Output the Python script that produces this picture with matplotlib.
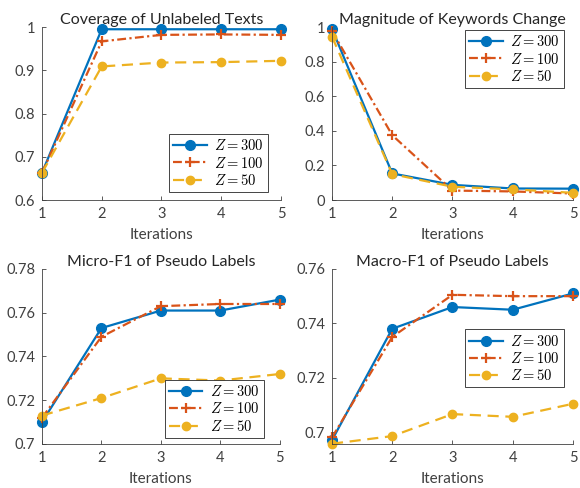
import numpy as np
import matplotlib.pyplot as plt
from matplotlib.ticker import FormatStrFormatter

plt.rcParams['font.family'] = ['Lato', 'DejaVu Sans']
plt.rcParams['mathtext.fontset'] = 'cm'

iterations = [1, 2, 3, 4, 5]
labels = ['$Z = 300$', '$Z = 100$', '$Z = 50$']

# coverage of unlabeled texts
coverage_300 = [0.663, 0.995, 0.995, 0.995, 0.995]
coverage_100 = [0.663, 0.967, 0.982, 0.983, 0.982]
coverage_50 = [0.663, 0.909, 0.918, 0.919, 0.922]

# magnitude of keywords change
change_300 = [0.99, 0.154, 0.088, 0.067, 0.066]
change_100 = [0.977, 0.375, 0.055, 0.05, 0.038]
change_50 = [0.945, 0.15, 0.077, 0.062, 0.042]

# micro-F1
micro_300 = [0.710, 0.753, 0.761, 0.761, 0.766]
micro_100 = [0.712, 0.749, 0.763, 0.764, 0.764]
micro_50 = [0.713, 0.721, 0.730, 0.729, 0.732]

# macro-F1
macro_300 = [0.697, 0.738, 0.746, 0.745, 0.751]
macro_100 = [0.698, 0.735, 0.7505, 0.750, 0.750]
macro_50 = [0.6957, 0.6985, 0.7066, 0.7056, 0.7104]

blue = '#0072BD'
red = '#D95319'
yellow = '#EDB120'

fig = plt.figure(figsize=(5.8, 4.88), dpi=100)

panels = [
    ([0.0724, 0.590, 0.412, 0.3545], 'Coverage of Unlabeled Texts',
     (coverage_300, coverage_100, coverage_50), (0.6, 1.0), [0.6, 0.7, 0.8, 0.9, 1.0],
     'lower right', (0.946, 0.046)),
    ([0.5724, 0.590, 0.4155, 0.3545], 'Magnitude of Keywords Change',
     (change_300, change_100, change_50), (0.0, 1.0), [0, 0.2, 0.4, 0.6, 0.8, 1.0],
     'upper right', (0.963, 0.983)),
    ([0.0724, 0.0902, 0.410, 0.3586], 'Micro-F1 of Pseudo Labels',
     (micro_300, micro_100, micro_50), (0.7, 0.78), [0.7, 0.72, 0.74, 0.76, 0.78],
     'lower right', (0.933, 0.034)),
    ([0.5724, 0.0902, 0.4155, 0.3586], 'Macro-F1 of Pseudo Labels',
     (macro_300, macro_100, macro_50), (0.6956, 0.76), [0.7, 0.72, 0.74, 0.76],
     'upper right', (0.963, 0.655)),
]

for rect, title, (s300, s100, s50), ylim, yticks, loc, anchor in panels:
    ax = fig.add_axes(rect)
    ax.plot(iterations, s300, '-o', color=blue, lw=1.6, ms=7, label=labels[0], clip_on=False)
    ax.plot(iterations, s100, '-.+', color=red, lw=1.6, ms=7, mew=1.6, label=labels[1], clip_on=False,
            dashes=(4, 1.5, 1, 1.5))
    ax.plot(iterations, s50, '--o', color=yellow, lw=1.6, ms=6, label=labels[2], clip_on=False,
            dashes=(5, 3))
    ax.set_xlim(1, 5)
    ax.set_ylim(*ylim)
    ax.set_xticks(iterations)
    ax.set_yticks(yticks)
    ax.yaxis.set_major_formatter(FormatStrFormatter('%g'))
    ax.set_title(title, fontsize=11.5, color='#262626', pad=2)
    ax.set_xlabel('Iterations', fontsize=11, color='#404040', labelpad=5)
    for s in ['top', 'right']:
        ax.spines[s].set_visible(False)
    for s in ['left', 'bottom']:
        ax.spines[s].set_color('#404040')
        ax.spines[s].set_linewidth(0.6)
    ax.tick_params(direction='in', length=3, width=0.6, colors='#404040', labelsize=10.5, pad=5)
    leg = ax.legend(loc=loc, bbox_to_anchor=anchor, fontsize=10.5, fancybox=False,
                    edgecolor='#262626', framealpha=1, handlelength=2.3,
                    borderpad=0.3, labelspacing=0.15, handletextpad=0.5, borderaxespad=0)
    leg.get_frame().set_linewidth(0.6)

fig.savefig('out.png', dpi=100)
